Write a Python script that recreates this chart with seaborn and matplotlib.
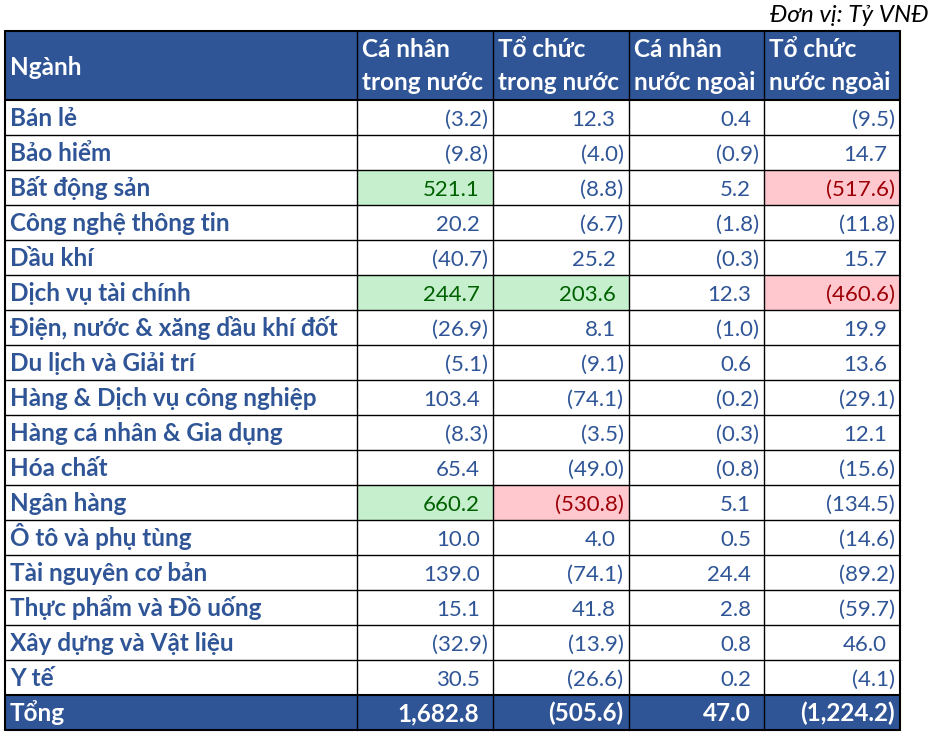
"""Bảng giao dịch ròng theo ngành, vẽ bằng seaborn heatmap + text"""

import matplotlib
matplotlib.use("Agg")
import matplotlib.pyplot as plt
import seaborn as sns
import numpy as np
from matplotlib.colors import ListedColormap

# ---- data ----
unit_label = "Đơn vị: Tỷ VNĐ"
first_header = "Ngành"
col_headers = [
    ("Cá nhân", "trong nước"),
    ("Tổ chức", "trong nước"),
    ("Cá nhân", "nước ngoài"),
    ("Tổ chức", "nước ngoài"),
]
sectors = [
    "Bán lẻ", "Bảo hiểm", "Bất động sản", "Công nghệ thông tin", "Dầu khí",
    "Dịch vụ tài chính", "Điện, nước & xăng dầu khí đốt", "Du lịch và Giải trí",
    "Hàng & Dịch vụ công nghiệp", "Hàng cá nhân & Gia dụng", "Hóa chất",
    "Ngân hàng", "Ô tô và phụ tùng", "Tài nguyên cơ bản",
    "Thực phẩm và Đồ uống", "Xây dựng và Vật liệu", "Y tế",
]
ca_nhan_trong_nuoc = [-3.2, -9.8, 521.1, 20.2, -40.7, 244.7, -26.9, -5.1, 103.4,
                      -8.3, 65.4, 660.2, 10.0, 139.0, 15.1, -32.9, 30.5]
to_chuc_trong_nuoc = [12.3, -4.0, -8.8, -6.7, 25.2, 203.6, 8.1, -9.1, -74.1,
                      -3.5, -49.0, -530.8, 4.0, -74.1, 41.8, -13.9, -26.6]
ca_nhan_nuoc_ngoai = [0.4, -0.9, 5.2, -1.8, -0.3, 12.3, -1.0, 0.6, -0.2,
                      -0.3, -0.8, 5.1, 0.5, 24.4, 2.8, 0.8, 0.2]
to_chuc_nuoc_ngoai = [-9.5, 14.7, -517.6, -11.8, 15.7, -460.6, 19.9, 13.6, -29.1,
                      12.1, -15.6, -134.5, -14.6, -89.2, -59.7, 46.0, -4.1]
total_label = "Tổng"
totals = [1682.8, -505.6, 47.0, -1224.2]
# conditional highlights: (row, col, 1=green / 2=red)
highlights = [(2, 0, 1), (2, 3, 2), (5, 0, 1), (5, 1, 1), (5, 3, 2),
              (11, 0, 1), (11, 1, 2)]

# ---- style ----
BLUE = "#2F5597"
GREEN_BG, GREEN_FG = "#C6EFCE", "#006100"
RED_BG, RED_FG = "#FFC7CE", "#9C0006"
FONT = ["Lato", "DejaVu Sans"]

sns.set_theme(style="white")
plt.rcParams["font.family"] = FONT

W, H = 934, 739
x_left, x_split, x_right = 5, 357, 900
y_top, y_head, row_h = 31, 100, 35
n_rows = len(sectors)
y_body_end = y_head + n_rows * row_h
y_bottom = y_body_end + row_h
col_edges = np.linspace(x_split, x_right, len(col_headers) + 1)

FS_LABEL = 17.5
FS_NUM = 16


def fmt(v):
    s = f"{abs(v):,.1f}"
    return f"({s})" if v < 0 else s


values = np.array([ca_nhan_trong_nuoc, to_chuc_trong_nuoc,
                   ca_nhan_nuoc_ngoai, to_chuc_nuoc_ngoai]).T
codes = np.zeros(values.shape)
for r, c, k in highlights:
    codes[r, c] = k

fig = plt.figure(figsize=(W / 100, H / 100), dpi=100)

# body cell fills via heatmap
ax_body = fig.add_axes([x_split / W, 1 - y_body_end / H,
                        (x_right - x_split) / W, (y_body_end - y_head) / H])
sns.heatmap(codes, ax=ax_body, cmap=ListedColormap(["white", GREEN_BG, RED_BG]),
            vmin=-0.5, vmax=2.5, cbar=False, xticklabels=False, yticklabels=False)
ax_body.axis("off")

# overlay in pixel coordinates
ax = fig.add_axes([0, 0, 1, 1], zorder=3)
ax.set_xlim(0, W)
ax.set_ylim(H, 0)
ax.axis("off")
ax.patch.set_alpha(0)

ax.add_patch(plt.Rectangle((x_left, y_top), x_right - x_left, y_head - y_top,
                           color=BLUE, lw=0))
ax.add_patch(plt.Rectangle((x_left, y_body_end), x_right - x_left, row_h,
                           color=BLUE, lw=0))

# grid lines
for i in range(n_rows + 1):
    y = y_head + i * row_h
    lw = 1.5 if i in (0, n_rows) else 1.0
    ax.plot([x_left, x_right], [y, y], color="black", lw=lw)
ax.plot([x_left, x_right], [y_top, y_top], color="black", lw=1.5)
ax.plot([x_left, x_right], [y_bottom, y_bottom], color="black", lw=1.5)
for x in [x_left, *col_edges]:
    lw = 1.5 if x in (x_left, x_right) else 1.0
    ax.plot([x, x], [y_top, y_bottom], color="black", lw=lw)

ax.text(928, 22, unit_label, ha="right", va="baseline", fontsize=17.5,
        style="italic", color="black")

# header
ax.text(x_left + 5, 75, first_header, ha="left", va="baseline",
        fontsize=FS_LABEL, fontweight="bold", color="white")
for j, (l1, l2) in enumerate(col_headers):
    ax.text(col_edges[j] + 5, 57, l1, ha="left", va="baseline",
            fontsize=FS_LABEL, fontweight="bold", color="white")
    ax.text(col_edges[j] + 5, 90, l2, ha="left", va="baseline",
            fontsize=FS_LABEL, fontweight="bold", color="white")

# body
for i, name in enumerate(sectors):
    base = y_head + i * row_h + 26
    ax.text(x_left + 5, base, name, ha="left", va="baseline",
            fontsize=FS_LABEL, fontweight="bold", color=BLUE)
    for j in range(values.shape[1]):
        v = values[i, j]
        color = {1: GREEN_FG, 2: RED_FG}.get(int(codes[i, j]), BLUE)
        xr = col_edges[j + 1] - (5 if v < 0 else 13)
        ax.text(xr, base, fmt(v), ha="right", va="baseline", fontsize=FS_NUM,
                color=color)

# total row
base = y_body_end + 26
ax.text(x_left + 5, base, total_label, ha="left", va="baseline",
        fontsize=FS_LABEL, fontweight="bold", color="white")
for j, v in enumerate(totals):
    xr = col_edges[j + 1] - (5 if v < 0 else 14)
    ax.text(xr, base, fmt(v), ha="right", va="baseline", fontsize=FS_LABEL,
            fontweight="bold", color="white")

fig.savefig("out.png", dpi=100)
plt.close(fig)
